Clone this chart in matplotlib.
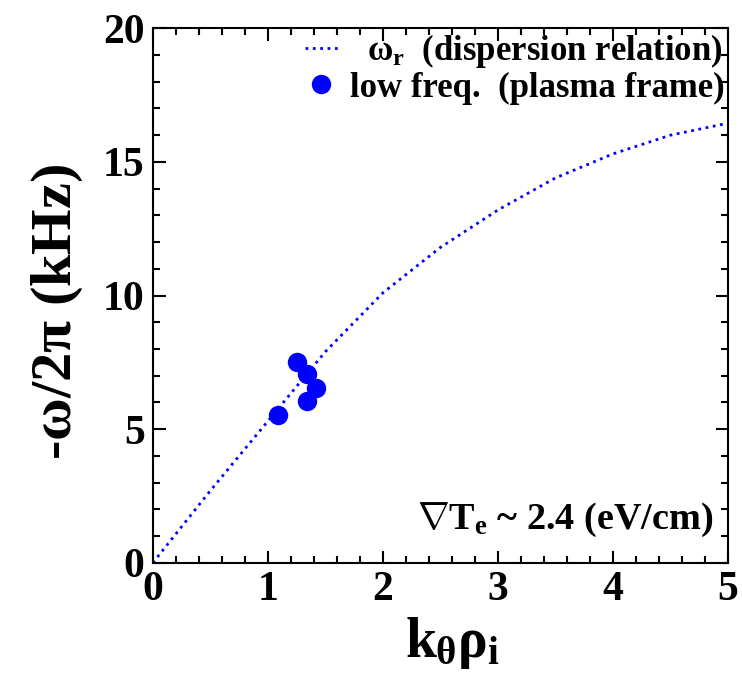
import matplotlib
matplotlib.use("Agg")
import matplotlib.pyplot as plt
from matplotlib.ticker import MultipleLocator

plt.rcParams['font.family'] = ['Liberation Serif', 'DejaVu Serif']
plt.rcParams['font.weight'] = 'bold'
plt.rcParams['axes.labelweight'] = 'bold'
plt.rcParams['mathtext.fontset'] = 'custom'
plt.rcParams['mathtext.rm'] = 'Liberation Serif:bold'
plt.rcParams['mathtext.it'] = 'Liberation Serif:bold'
plt.rcParams['mathtext.bf'] = 'Liberation Serif:bold'

# Dispersion relation curve
k_disp = [0.0, 0.5, 1.0, 1.5, 2.0, 2.5, 3.0, 3.5, 4.0, 4.5, 5.0]
f_disp = [0.0, 2.7, 5.3, 7.9, 10.1, 11.8, 13.2, 14.4, 15.3, 16.0, 16.45]

# Measured low-frequency points (plasma frame)
k_meas = [1.09, 1.25, 1.34, 1.42, 1.34]
f_meas = [5.53, 7.51, 7.07, 6.54, 6.06]

fig = plt.figure(figsize=(7.42, 6.74), dpi=100)
ax = fig.add_axes([0.206, 0.165, 0.775, 0.793])

ax.plot(k_disp, f_disp, linestyle=':', color='blue', lw=2,
        label=r'  $\omega_r$  (dispersion relation)')
ax.plot(k_meas, f_meas, 'o', color='blue', ms=14, markeredgewidth=0,
        label='low freq.  (plasma frame)')

ax.set_xlim(0, 5)
ax.set_ylim(0, 20)
ax.xaxis.set_major_locator(MultipleLocator(1))
ax.xaxis.set_minor_locator(MultipleLocator(0.2))
ax.yaxis.set_major_locator(MultipleLocator(5))
ax.yaxis.set_minor_locator(MultipleLocator(1))
ax.tick_params(which='both', direction='in', top=True, right=True, width=1.5)
ax.tick_params(which='major', length=9, labelsize=30, pad=6)
ax.tick_params(which='minor', length=5)
for s in ax.spines.values():
    s.set_linewidth(1.5)

ax.set_xlabel(r'$k_\theta\rho_i$', fontsize=40, labelpad=4, x=0.52)
ax.set_ylabel(r'-$\omega$/2$\pi$ (kHz)', fontsize=42, labelpad=13, y=0.47)

ax.legend(loc='upper right', frameon=False, fontsize=25, handlelength=0.95,
          handletextpad=0.35, borderaxespad=0.0, labelspacing=0.05,
          borderpad=0.1)
ax.text(0.975, 0.08, r'$\nabla T_e$ ~ 2.4 (eV/cm)', transform=ax.transAxes,
        ha='right', va='center', fontsize=27.5)

fig.savefig('out.png', dpi=100)
